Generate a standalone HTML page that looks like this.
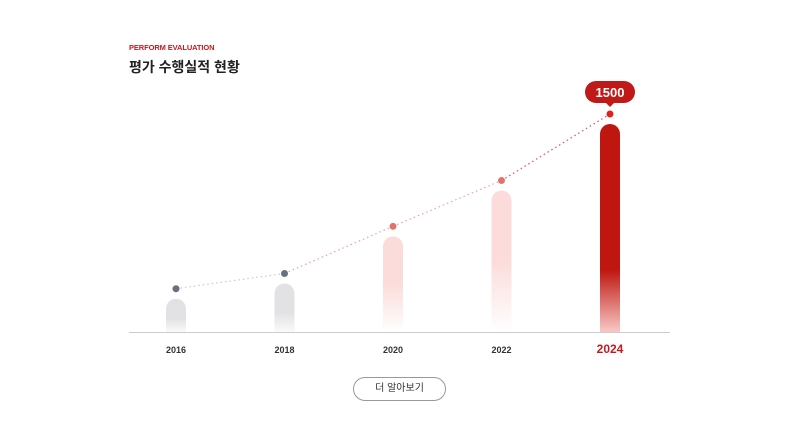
<!DOCTYPE html>
<html><head><meta charset="utf-8"><style>
body{margin:0;width:800px;height:448px;background:#fff;font-family:"Liberation Sans","Noto Sans CJK KR",sans-serif;overflow:hidden;position:relative}
.sub{position:absolute;left:129px;top:43px;font-size:7.5px;font-weight:bold;color:#c8181b;letter-spacing:-0.1px}
.title{position:absolute;left:129px;top:57px;font-size:14px;font-weight:bold;color:#222}
.btn{position:absolute;left:353px;top:377px;width:93px;height:24px;border:1px solid #999;border-radius:13px;box-sizing:border-box;font-size:10px;color:#333;text-align:center;line-height:22px}
svg{position:absolute;left:0;top:0}
</style></head><body>
<div class="sub">PERFORM EVALUATION</div>
<div class="title">평가 수행실적 현황</div>
<svg width="800" height="448">
<defs>
<linearGradient id="gGrey" x1="0" y1="0" x2="0" y2="1"><stop offset="0.6" stop-color="#e2e2e4"/><stop offset="1" stop-color="#fafafa"/></linearGradient>
<linearGradient id="gPink" x1="0" y1="0" x2="0" y2="1"><stop offset="0.5" stop-color="#fbdcda"/><stop offset="1" stop-color="#fff"/></linearGradient>
<linearGradient id="gRed" x1="0" y1="0" x2="0" y2="1"><stop offset="0.7" stop-color="#bf160f"/><stop offset="1" stop-color="#f7c9c6"/></linearGradient>
</defs>
<g id="chart"></g>
</svg>
<div class="btn">더 알아보기</div>
<script>
const categories=["2016","2018","2020","2022","2024"];
const values=[240,350,690,1020,1500];
const styles=["grey","grey","pink","pink","red"];
const x0=176,dx=108.5,base=332,yTop=124,vmax=1500;
const xs=i=>x0+i*dx;
const ys=v=>base-(v/vmax)*(base-yTop);
const g=document.getElementById('chart');
const NS="http://www.w3.org/2000/svg";
function mk(t,a){const e=document.createElementNS(NS,t);for(const k in a)e.setAttribute(k,a[k]);g.appendChild(e);return e;}
const fills={grey:"url(#gGrey)",pink:"url(#gPink)",red:"url(#gRed)"};
const dots={grey:"#687080",pink:"#e0746c",red:"#e0201c"};
const lineC={grey:"#c8c8cc",pink:"#f0a0a0",red:"#e85050"};
categories.forEach((c,i)=>{
 const x=xs(i),y=ys(values[i]);
 const b=mk('path',{d:`M${x-10},${base} L${x-10},${y+10} A10,10 0 0 1 ${x+10},${y+10} L${x+10},${base} Z`,fill:fills[styles[i]]});
 
 
 const t=mk('text',{x:x,y:353,'text-anchor':'middle','font-size':i===4?12:9,'font-weight':'bold',fill:i===4?'#c8181b':'#333'});
 t.textContent=c;
 
 
});
for(let i=0;i<categories.length-1;i++){
 const l=mk('line',{x1:xs(i),y1:ys(values[i])-10,x2:xs(i+1),y2:ys(values[i+1])-10,stroke:lineC[styles[i+1]],'stroke-width':1.2,'stroke-dasharray':'1.5 3'});
 
 
}
const ax=mk('line',{x1:129,y1:base+0.5,x2:670,y2:base+0.5,stroke:'#ccc','stroke-width':1});


categories.forEach((c,i)=>{
 const d=mk('circle',{cx:xs(i),cy:ys(values[i])-10,r:3.5,fill:dots[styles[i]]});
 
 
});
const li=values.length-1,lx=xs(li),ly=ys(values[li])-10;
const bub=mk('path',{d:`M${lx-14},${ly-33} h28 a11,11 0 0 1 0,22 h-10 l-4,4 l-4,-4 h-10 a11,11 0 0 1 0,-22 Z`,fill:'#bf1a17'});


const bt=mk('text',{x:lx,y:ly-17,'text-anchor':'middle','font-size':13,'font-weight':'bold',fill:'#fff'});
bt.textContent=String(values[li]);


</script>
</body></html>
